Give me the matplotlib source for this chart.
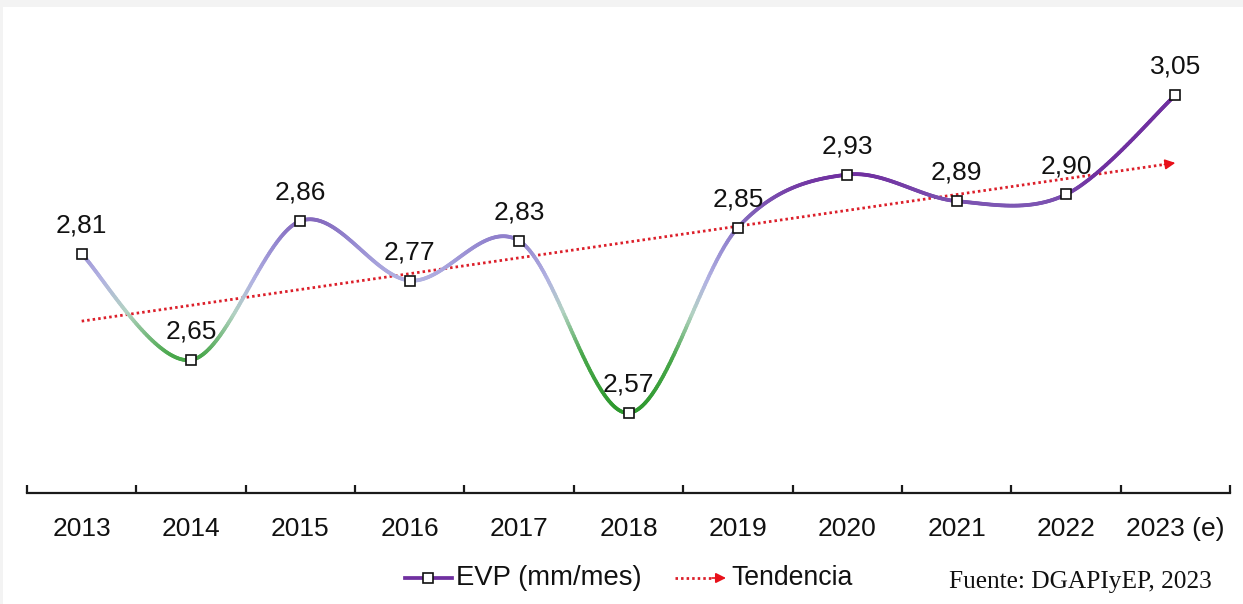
import numpy as np
import matplotlib
matplotlib.use("Agg")
import matplotlib.pyplot as plt
from matplotlib.collections import LineCollection
from matplotlib.colors import LinearSegmentedColormap, Normalize
from matplotlib.patches import Rectangle

plt.rcParams["font.family"] = ["Liberation Sans", "DejaVu Sans"]

# Data
years = ["2013", "2014", "2015", "2016", "2017", "2018", "2019", "2020", "2021", "2022", "2023 (e)"]
evp = [2.81, 2.65, 2.86, 2.77, 2.83, 2.57, 2.85, 2.93, 2.89, 2.90, 3.05]
series_label = "EVP (mm/mes)"
trend_label = "Tendencia"
source_note = "Fuente: DGAPIyEP, 2023"

x = np.arange(len(years), dtype=float)
y = np.array(evp)

W, H = 1243, 604
fig = plt.figure(figsize=(W / 100, H / 100), dpi=100)
fig.patch.set_facecolor("#f3f3f3")
fig.add_artist(Rectangle((3 / W, 0), 1, (H - 7) / H, transform=fig.transFigure,
                         facecolor="white", edgecolor="none", zorder=0))

ax = fig.add_axes([27 / W, (H - 493) / H, (1230 - 27) / W, (493 - 29) / H])
ax.set_facecolor("none")
ax.set_xlim(-0.5, len(years) - 0.5)
ax.set_ylim(2.449, 3.15)


def smooth_curve(xs, ys, n=80):
    """Piecewise cubic Bezier through the points (Catmull-Rom style control points)."""
    pts = np.column_stack([xs, ys])
    out = []
    m = len(pts)
    for i in range(m - 1):
        p0 = pts[i - 1] if i > 0 else pts[i]
        p1 = pts[i]
        p2 = pts[i + 1]
        p3 = pts[i + 2] if i + 2 < m else pts[i + 1]
        c1 = p1 + (p2 - p0) / 6.0
        c2 = p2 - (p3 - p1) / 6.0
        t = np.linspace(0, 1, n, endpoint=(i == m - 2))[:, None]
        seg = ((1 - t) ** 3) * p1 + 3 * ((1 - t) ** 2) * t * c1 + 3 * (1 - t) * t ** 2 * c2 + t ** 3 * p2
        out.append(seg)
    return np.vstack(out)


curve = smooth_curve(x, y)
segs = np.stack([curve[:-1], curve[1:]], axis=1)
mid_vals = (curve[:-1, 1] + curve[1:, 1]) / 2

cmap = LinearSegmentedColormap.from_list(
    "evp",
    [(0.00, "#2c982c"),
     (0.24, "#4aa84c"),
     (0.42, "#b2d2c2"),
     (0.56, "#b2b2e2"),
     (0.72, "#9487d0"),
     (0.84, "#8060b8"),
     (1.00, "#7030a0")],
)
norm = Normalize(vmin=2.57, vmax=2.93)
lc = LineCollection(segs, colors=cmap(norm(np.clip(mid_vals, 2.57, 2.93))),
                    linewidths=2.7, capstyle="round", joinstyle="round", zorder=3)
ax.add_collection(lc)

# Linear trend
slope, intercept = np.polyfit(x, y, 1)
trend = slope * x + intercept
ax.plot([x[0], x[-1] - 0.08], [trend[0], slope * (x[-1] - 0.08) + intercept],
        color="#dc1f2a", lw=2.0, linestyle=(0, (0.9, 1.1)), zorder=2)
ax.annotate("", xy=(x[-1], trend[-1]), xytext=(x[-1] - 0.1, slope * (x[-1] - 0.1) + intercept),
            arrowprops=dict(arrowstyle="-|>,head_length=0.6,head_width=0.3", color="#e8101a",
                            lw=1.2, shrinkA=0, shrinkB=0), zorder=2)

# Markers and value labels
ax.plot(x, y, linestyle="none", marker="s", markersize=6.5, markerfacecolor="white",
        markeredgecolor="#111111", markeredgewidth=1.2, zorder=5)
for xi, yi in zip(x, y):
    ax.annotate(f"{yi:.2f}".replace(".", ","), (xi, yi), xytext=(0, 20.5),
                textcoords="offset points", ha="center", va="center",
                fontsize=19, color="#111111", zorder=6)

# Axes styling
for s in ["top", "right", "left"]:
    ax.spines[s].set_visible(False)
ax.spines["bottom"].set_linewidth(1.6)
ax.spines["bottom"].set_color("#1a1a1a")
ax.set_yticks([])
ax.set_xticks(x)
ax.set_xticklabels(years)
ax.tick_params(axis="x", which="major", length=0, pad=17, labelsize=19, labelcolor="#111111")
ax.set_xticks(np.arange(-0.5, len(years), 1.0), minor=True)
ax.tick_params(axis="x", which="minor", direction="in", length=6, width=1.6, color="#1a1a1a")

# Legend and source note drawn in pixel space
lg = fig.add_axes([0, 0, 1, 1], facecolor="none")
lg.set_xlim(0, W)
lg.set_ylim(H, 0)
lg.axis("off")
ly = 578
lg.plot([405, 452], [ly, ly], color="#7030a0", lw=2.7)
lg.plot([428], [ly], marker="s", markersize=6.5, markerfacecolor="white",
        markeredgecolor="#111111", markeredgewidth=1.2)
lg.text(456, ly, series_label, fontsize=19.8, va="center", ha="left", color="#111111")
lg.plot([675, 714], [ly, ly], color="#dc1f2a", lw=2.0, linestyle=(0, (0.9, 1.1)))
lg.annotate("", xy=(726, ly), xytext=(712, ly),
            arrowprops=dict(arrowstyle="-|>,head_length=0.6,head_width=0.3", color="#e8101a",
                            lw=1.2, shrinkA=0, shrinkB=0))
lg.text(731, ly, trend_label, fontsize=19.2, va="center", ha="left", color="#111111")
lg.text(1212, 582, source_note, fontsize=18.3, va="center", ha="right", color="#111111",
        family=["Liberation Serif", "DejaVu Serif"])

fig.savefig("out.png", dpi=100)
